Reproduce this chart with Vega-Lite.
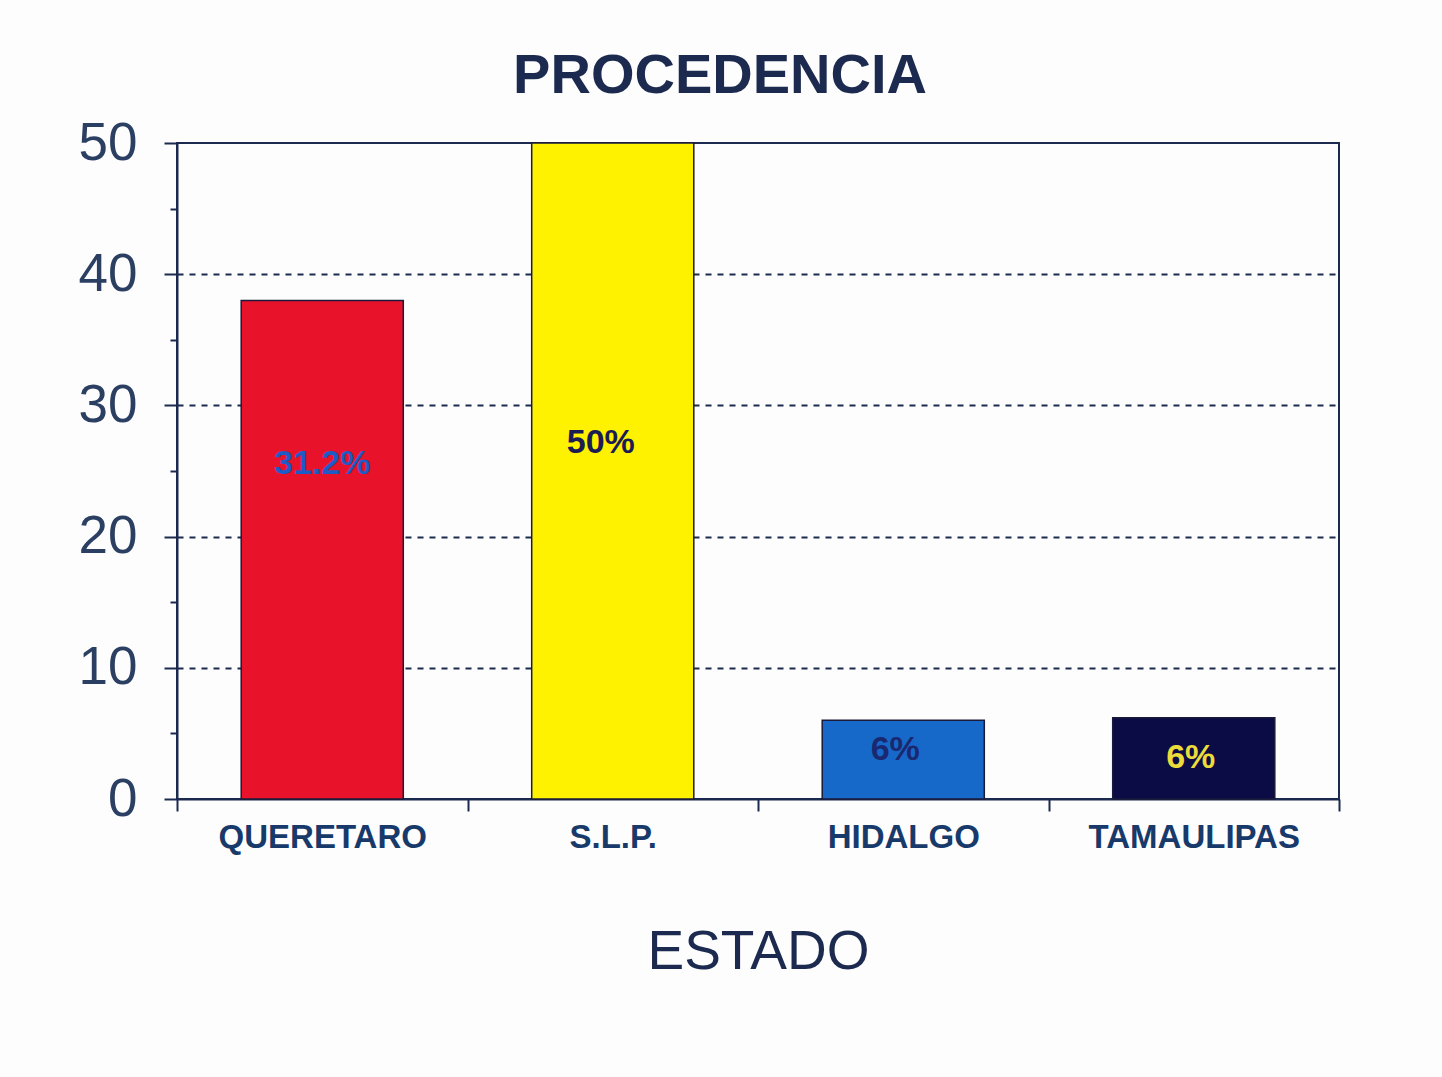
{
  "$schema": "https://vega.github.io/schema/vega-lite/v6.json",
  "width": 1162,
  "height": 656,
  "autosize": {"type": "none"},
  "padding": {"left": 177, "top": 143, "right": 103, "bottom": 278},
  "background": "#fdfdfd",
  "title": {"text": "PROCEDENCIA", "font": "Liberation Sans", "fontSize": 56, "fontWeight": "bold", "color": "#1b2a4e", "anchor": "middle", "dx": -38, "offset": 12},
  "config": {"view": {"stroke": "#1b2a4e", "strokeWidth": 2}, "font": "Liberation Sans"},
  "data": {"values": [
    {"estado": "QUERETARO", "valor": 38, "etiqueta": "31.2%"},
    {"estado": "S.L.P.", "valor": 50, "etiqueta": "50%"},
    {"estado": "HIDALGO", "valor": 6, "etiqueta": "6%"},
    {"estado": "TAMAULIPAS", "valor": 6.2, "etiqueta": "6%"}
  ]},
  "encoding": {
    "x": {
      "field": "estado", "type": "nominal", "sort": null,
      "scale": {"paddingInner": 0, "paddingOuter": 0},
      "axis": {
        "labelAngle": 0, "labelFontSize": 33, "labelFontWeight": "bold", "labelColor": "#183a6a", "labelLimit": 0,
        "tickBand": "extent", "tickSize": 12, "tickColor": "#1b2a4e", "tickWidth": 2,
        "domainColor": "#1b2a4e", "domainWidth": 2, "labelPadding": 10, "grid": false,
        "title": "ESTADO", "titleFontSize": 55, "titleFontWeight": "normal", "titleColor": "#1b2a4e", "titlePadding": 71
      }
    }
  },
  "layer": [
    {
      "mark": {"type": "bar", "stroke": "#1a1a3a", "strokeWidth": 1.5, "width": {"band": 0.558}},
      "encoding": {
        "y": {
          "field": "valor", "type": "quantitative",
          "scale": {"domain": [0, 50], "nice": false},
          "axis": {
            "values": [0, 5, 10, 15, 20, 25, 30, 35, 40, 45, 50],
            "labelExpr": "datum.value % 10 == 0 ? datum.label : ''",
            "labelFontSize": 53, "labelColor": "#2b3f63", "labelPadding": 27,
            "tickSize": {"condition": {"test": "datum.value % 10 == 0", "value": 13}, "value": 7},
            "tickColor": "#1b2a4e", "tickWidth": 2,
            "domainColor": "#1b2a4e", "domainWidth": 2,
            "grid": true, "gridDash": [6, 6], "gridColor": "#1b2a4e", "gridWidth": 2,
            "gridOpacity": {"condition": {"test": "datum.value % 10 == 0 && datum.value > 0 && datum.value < 50", "value": 1}, "value": 0},
            "title": null
          }
        },
        "color": {
          "field": "estado", "type": "nominal", "legend": null,
          "scale": {"domain": ["QUERETARO", "S.L.P.", "HIDALGO", "TAMAULIPAS"], "range": ["#e8132b", "#fff200", "#1769c9", "#0b0b45"]}
        }
      }
    },
    {
      "transform": [{"filter": "datum.estado == 'QUERETARO'"}],
      "mark": {"type": "text", "fontSize": 34, "fontWeight": "bold", "color": "#1e5bc6", "baseline": "middle"},
      "encoding": {"y": {"datum": 25.5, "type": "quantitative", "title": null}, "text": {"field": "etiqueta"}}
    },
    {
      "transform": [{"filter": "datum.estado == 'S.L.P.'"}],
      "mark": {"type": "text", "fontSize": 34, "fontWeight": "bold", "color": "#1c1c55", "baseline": "middle", "dx": -12},
      "encoding": {"y": {"datum": 27.1, "type": "quantitative", "title": null}, "text": {"field": "etiqueta"}}
    },
    {
      "transform": [{"filter": "datum.estado == 'HIDALGO'"}],
      "mark": {"type": "text", "fontSize": 34, "fontWeight": "bold", "color": "#1a2870", "baseline": "middle", "dx": -8},
      "encoding": {"y": {"datum": 3.7, "type": "quantitative", "title": null}, "text": {"field": "etiqueta"}}
    },
    {
      "transform": [{"filter": "datum.estado == 'TAMAULIPAS'"}],
      "mark": {"type": "text", "fontSize": 34, "fontWeight": "bold", "color": "#ecdc3a", "baseline": "middle", "dx": -3},
      "encoding": {"y": {"datum": 3.1, "type": "quantitative", "title": null}, "text": {"field": "etiqueta"}}
    }
  ]
}
